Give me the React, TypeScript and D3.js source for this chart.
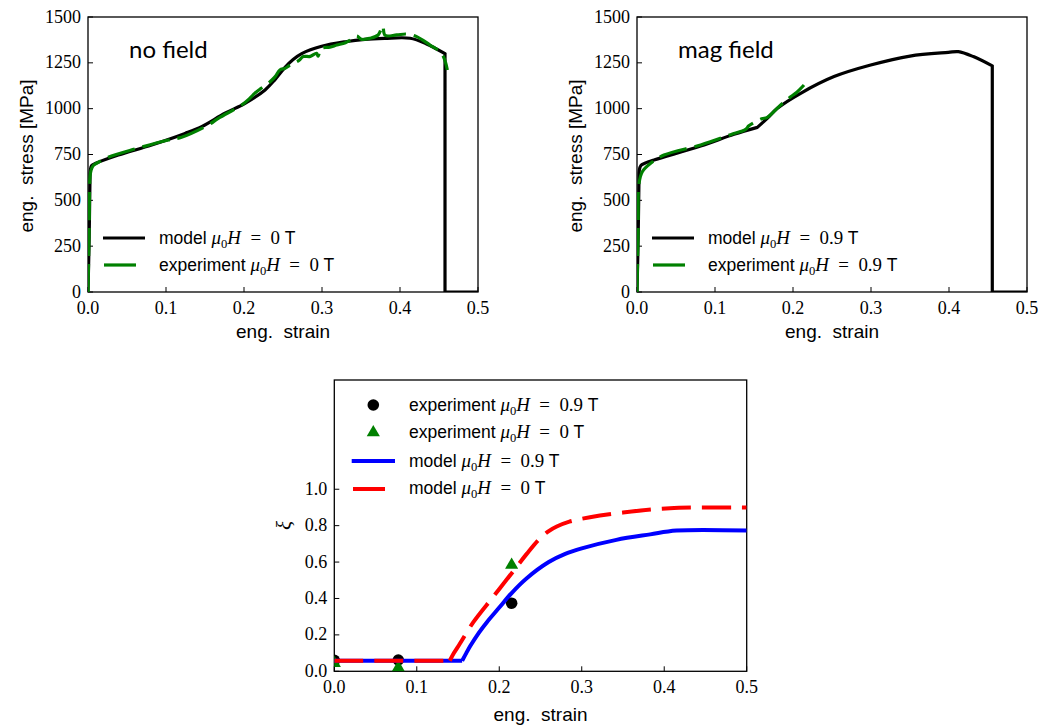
import React from "react";
import * as d3 from "d3";

// tick values
const strainTicks = [0, 0.1, 0.2, 0.3, 0.4, 0.5];
const stressTicks = [0, 250, 500, 750, 1000, 1250, 1500];
const xiTicks = [0, 0.2, 0.4, 0.6, 0.8, 1.0];

// top-left: no field
const modelNoFieldStrain = [0, 0.0015, 0.0025, 0.003, 0.0047, 0.01, 0.0389, 0.0816, 0.1244, 0.1457, 0.1756, 0.2013, 0.227, 0.24, 0.2526, 0.263, 0.274, 0.2996, 0.33, 0.355, 0.38, 0.413, 0.434, 0.4577, 0.4577, 0.5];
const modelNoFieldStress = [0, 300, 600, 665, 690, 702, 747, 802, 865, 902, 975, 1029, 1102, 1160, 1225, 1268, 1300, 1340, 1365, 1378, 1383, 1384, 1353, 1300, 0, 0];
const expNoFieldStrain = [0, 0.0015, 0.0026, 0.004, 0.0068, 0.0154, 0.026, 0.0603, 0.103, 0.12, 0.1543, 0.167, 0.197, 0.207, 0.214, 0.22, 0.231, 0.24, 0.246, 0.2526, 0.258, 0.263, 0.27, 0.276, 0.285, 0.293, 0.295, 0.299, 0.31, 0.319, 0.33, 0.34, 0.3445, 0.351, 0.3615, 0.372, 0.3778, 0.3808, 0.3957, 0.4085, 0.4214, 0.4385, 0.4513, 0.4556, 0.4585, 0.4607];
const expNoFieldStress = [0, 350, 629, 665, 690, 712, 735, 780, 829, 844, 911, 947, 1020, 1055, 1085, 1105, 1138, 1175, 1211, 1220, 1235, 1247, 1262, 1284, 1285, 1302, 1287, 1329, 1335, 1347, 1360, 1384, 1396, 1378, 1384, 1402, 1451, 1400, 1402, 1407, 1393, 1347, 1311, 1284, 1250, 1211];

// top-right: mag field
const modelMagStrain = [0, 0.0015, 0.0025, 0.003, 0.005, 0.01, 0.0218, 0.0816, 0.1244, 0.1543, 0.167, 0.18, 0.2098, 0.2526, 0.2996, 0.35, 0.3991, 0.412, 0.4312, 0.4555, 0.4555, 0.5];
const modelMagStress = [0, 300, 600, 665, 690, 702, 720, 796, 860, 898, 947, 1002, 1084, 1175, 1238, 1287, 1307, 1311, 1284, 1233, 0, 0];
const expMagStrain = [0, 0.0015, 0.0026, 0.0068, 0.0175, 0.0346, 0.0816, 0.12, 0.1393, 0.143, 0.15, 0.16, 0.167, 0.1842, 0.197, 0.205, 0.2141];
const expMagStress = [0, 350, 593, 656, 702, 747, 802, 858, 887, 905, 924, 945, 953, 1020, 1065, 1090, 1129];

// bottom: martensite fraction
const xiModelMagStrain = [0, 0.075, 0.155, 0.16, 0.165, 0.175, 0.185, 0.2, 0.215, 0.233, 0.26, 0.28, 0.3, 0.342, 0.383, 0.415, 0.5];
const xiModelMag = [0.058, 0.058, 0.058, 0.1, 0.14, 0.21, 0.27, 0.35, 0.43, 0.51, 0.6, 0.645, 0.675, 0.722, 0.752, 0.773, 0.773];
const xiModelNoStrain = [0, 0.07, 0.14, 0.145, 0.152, 0.1686, 0.1928, 0.217, 0.2333, 0.2494, 0.26, 0.2697, 0.285, 0.31, 0.35, 0.407, 0.5];
const xiModelNo = [0.058, 0.058, 0.058, 0.1, 0.15, 0.27, 0.41, 0.55, 0.645, 0.73, 0.77, 0.795, 0.822, 0.846, 0.872, 0.896, 0.9];
const xiExpMagStrain = [0, 0.0776, 0.215];
const xiExpMag = [0.06, 0.062, 0.374];
const xiExpNoStrain = [0, 0.0776, 0.215];
const xiExpNo = [0.045, 0.02, 0.584];

const SERIF = "'Liberation Serif', 'DejaVu Serif', serif";
const SANS = "'Liberation Sans', Arial, sans-serif";
const LABEL = "Lato, 'Open Sans', sans-serif";

const GREEN = "#008000";

function zip(a: number[], b: number[]): [number, number][] {
  return a.map((v, i) => [v, b[i]]);
}

// smooth runs, straight at vertical steps, broken at sharp corners
function pathOf(pts: [number, number][], x: any, y: any, corners: number[] = []) {
  const smooth = d3.line<[number, number]>().x((d) => x(d[0])).y((d) => y(d[1])).curve(d3.curveCatmullRom.alpha(0.5));
  const straight = d3.line<[number, number]>().x((d) => x(d[0])).y((d) => y(d[1]));
  let out = "";
  let run: [number, number][] = [pts[0]];
  for (let i = 1; i < pts.length; i++) {
    if (pts[i][0] === pts[i - 1][0]) {
      if (run.length > 1) out += smooth(run);
      out += straight([pts[i - 1], pts[i]]);
      run = [pts[i]];
    } else {
      run.push(pts[i]);
      if (corners.includes(i)) {
        out += smooth(run);
        run = [pts[i]];
      }
    }
  }
  if (run.length > 1) out += smooth(run);
  return out;
}

function MathText({ x, y, prefix, value, size = 17.5 }: any) {
  const m = size * 1.08;
  return (
    <text x={x} y={y} fontSize={size} fill="#000">
      <tspan fontFamily={SANS}>{prefix + " "}</tspan>
      <tspan fontFamily={SERIF} fontStyle="italic" fontSize={m}>μ</tspan>
      <tspan fontFamily={SERIF} fontSize={size * 0.72} dy={4}>0</tspan>
      <tspan fontFamily={SERIF} fontStyle="italic" fontSize={m} dy={-4}>H</tspan>
      <tspan fontFamily={SERIF} fontSize={m}>{"\u2002=\u2002" + value + " "}</tspan>
      <tspan fontFamily={SANS}>T</tspan>
    </text>
  );
}

function Frame({ x, y, xTicks, yTicks, xFmt, yFmt, clipId }: any) {
  const [x0, x1] = x.range();
  const [y0, y1] = y.range(); // y0 bottom, y1 top
  return (
    <g>
      {xTicks.map((t: number) => (
        <g key={"x" + t}>
          <line x1={x(t)} x2={x(t)} y1={y0} y2={y0 - 5} stroke="#000" strokeWidth={1} />
          <text x={x(t)} y={y0 + 21.5} textAnchor="middle" fontFamily={SERIF} fontSize={18}>{xFmt(t)}</text>
        </g>
      ))}
      {yTicks.map((t: number) => (
        <g key={"y" + t}>
          <line x1={x0} x2={x0 + 5} y1={y(t)} y2={y(t)} stroke="#000" strokeWidth={1} />
          <text x={x0 - 7} y={y(t) + 5.5} textAnchor="end" fontFamily={SERIF} fontSize={18}>{yFmt(t)}</text>
        </g>
      ))}
      <rect x={x0} y={y1} width={x1 - x0} height={y0 - y1} fill="none" stroke="#000" strokeWidth={1.3} />
      <defs>
        <clipPath id={clipId}>
          <rect x={x0} y={y1} width={x1 - x0} height={y0 - y1} />
        </clipPath>
      </defs>
    </g>
  );
}

function StressPanel({ left, title, model, exp, field, id, corners }: any) {
  const x = d3.scaleLinear().domain([0, 0.5]).range([left, left + 390]);
  const y = d3.scaleLinear().domain([0, 1500]).range([292, 17]);
  return (
    <g>
      <Frame x={x} y={y} xTicks={strainTicks} yTicks={stressTicks} xFmt={d3.format(".1f")} yFmt={d3.format("d")} clipId={id} />
      <g clipPath={`url(#${id})`}>
        <path d={pathOf(model, x, y, corners)} fill="none" stroke="#000" strokeWidth={3.2} strokeLinejoin="round" strokeLinecap="round" />
        <path d={pathOf(exp, x, y)} fill="none" stroke={GREEN} strokeWidth={3.2} strokeDasharray="28 8" strokeLinejoin="round" />
      </g>
      <text x={left + 41} y={58} fontFamily={LABEL} fontSize={24}>{title}</text>
      <line x1={left + 15} x2={left + 57} y1={238} y2={238} stroke="#000" strokeWidth={3.2} />
      <line x1={left + 16} x2={left + 48} y1={265} y2={265} stroke={GREEN} strokeWidth={3.2} />
      <MathText x={left + 71} y={244} prefix="model" value={field} />
      <MathText x={left + 71} y={271} prefix="experiment" value={field} />
      <text x={left + 195} y={338} textAnchor="middle" fontFamily={SANS} fontSize={19}>{"eng.\u00a0 strain"}</text>
      <text transform={`translate(${left - 55},156) rotate(-90)`} textAnchor="middle" fontFamily={SANS} fontSize={19}>{"eng.\u00a0 stress [MPa]"}</text>
    </g>
  );
}

function XiPanel() {
  const x = d3.scaleLinear().domain([0, 0.5]).range([334.3, 746.7]);
  const y = d3.scaleLinear().domain([0, 1.6]).range([671.3, 380]);
  const tri = d3.symbol().type(d3.symbolTriangle).size(75)() || "";
  const blue = "#0000ff";
  const red = "#ff0000";
  return (
    <g>
      <Frame x={x} y={y} xTicks={strainTicks} yTicks={xiTicks} xFmt={d3.format(".1f")} yFmt={d3.format(".1f")} clipId="clipXi" />
      <g clipPath="url(#clipXi)">
        {zip(xiExpMagStrain, xiExpMag).map((d, i) => (
          <circle key={"c" + i} cx={x(d[0])} cy={y(d[1])} r={5.8} fill="#000" />
        ))}
        {zip(xiExpNoStrain, xiExpNo).map((d, i) => (
          <path key={"t" + i} d={tri} transform={`translate(${x(d[0])},${y(d[1])})`} fill={GREEN} />
        ))}
        <path d={pathOf(zip(xiModelMagStrain, xiModelMag), x, y, [2])} fill="none" stroke={blue} strokeWidth={4} strokeLinejoin="round" />
        <path d={pathOf(zip(xiModelNoStrain, xiModelNo), x, y, [2])} fill="none" stroke={red} strokeWidth={4} strokeDasharray="29 11" strokeLinejoin="round" />
      </g>
      <circle cx={373.3} cy={405} r={5.8} fill="#000" />
      <path d={tri} transform="translate(373.3,432.5)" fill={GREEN} />
      <line x1={351.7} x2={395} y1={461} y2={461} stroke={blue} strokeWidth={4} />
      <line x1={353} x2={385} y1={489} y2={489} stroke={red} strokeWidth={4} />
      <MathText x={409} y={411} prefix="experiment" value="0.9" />
      <MathText x={409} y={438} prefix="experiment" value="0" />
      <MathText x={409} y={467} prefix="model" value="0.9" />
      <MathText x={409} y={494} prefix="model" value="0" />
      <text x={540.5} y={721} textAnchor="middle" fontFamily={SANS} fontSize={19}>{"eng.\u00a0 strain"}</text>
      <text transform="translate(291,525.6) rotate(-90)" textAnchor="middle" fontFamily={SERIF} fontStyle="italic" fontSize={21}>ξ</text>
    </g>
  );
}

export default function App() {
  return (
    <svg width={1041} height={728} style={{ position: "absolute", left: 0, top: 0, background: "#fff" }}>
      <rect width={1041} height={728} fill="#fff" />
      <StressPanel left={88} title="no field" field="0" id="clipNo" corners={[]}
        model={zip(modelNoFieldStrain, modelNoFieldStress)} exp={zip(expNoFieldStrain, expNoFieldStress)} />
      <StressPanel left={637} title="mag field" field="0.9" id="clipMag" corners={[9]}
        model={zip(modelMagStrain, modelMagStress)} exp={zip(expMagStrain, expMagStress)} />
      <XiPanel />
    </svg>
  );
}
